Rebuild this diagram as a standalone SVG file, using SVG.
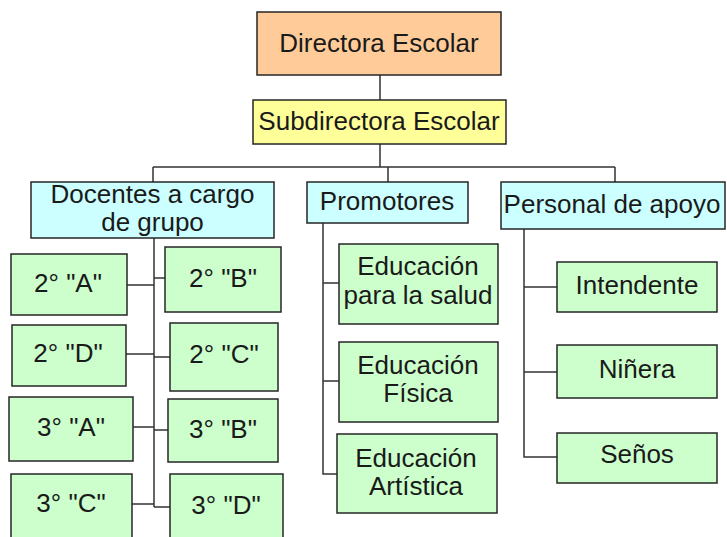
<svg xmlns="http://www.w3.org/2000/svg" width="727" height="537" viewBox="0 0 727 537">
<style>
.b{stroke:#262626;stroke-width:1.5}
.o{fill:#FFCC99}.y{fill:#FFFF99}.c{fill:#CCFFFF}.g{fill:#CCFFCC}
text{font-family:"Liberation Sans",Arial,sans-serif;font-size:26px;fill:#1a1a1a;text-anchor:middle}
.l{fill:none;stroke:#333;stroke-width:1.5}
</style>
<rect width="727" height="537" fill="#fff"/>
<g id="connectors">
<path class="l" d="M380 75V100M380 144V167M153 167H615M153 167V182M388 167V182M615 167V182"/>
<path class="l" d="M154 238V507M127 285H154M154 278H165M126 354H154M154 357H170M133 427H154M154 430H168M132 504H154M154 507H170"/>
<path class="l" d="M323 223V474H337M323 283H339M323 381H339"/>
<path class="l" d="M524 229V457H557M524 287H557M524 372H557"/>
</g>
<g id="directora"><rect class="b o" x="257" y="12" width="244" height="63"/><text x="379" y="52">Directora Escolar</text></g>
<g id="subdirectora"><rect class="b y" x="253" y="100" width="253" height="44"/><text x="379" y="130">Subdirectora Escolar</text></g>
<g id="docentes"><rect class="b c" x="31" y="182" width="243" height="56"/><text x="152.5" y="203">Docentes a cargo</text><text x="152.5" y="231">de grupo</text></g>
<g id="promotores"><rect class="b c" x="307" y="182" width="161" height="41"/><text x="387" y="210">Promotores</text></g>
<g id="personal"><rect class="b c" x="501" y="182" width="224" height="47"/><text x="612" y="213">Personal de apoyo</text></g>
<g id="g2a"><rect class="b g" x="11" y="254" width="116" height="61"/><text x="68" y="292">2° "A"</text></g>
<g id="g2b"><rect class="b g" x="165" y="247" width="116" height="65"/><text x="223" y="287">2° "B"</text></g>
<g id="g2d"><rect class="b g" x="12" y="325" width="114" height="61"/><text x="68" y="362">2° "D"</text></g>
<g id="g2c"><rect class="b g" x="170" y="323" width="108" height="68"/><text x="224" y="363">2° "C"</text></g>
<g id="g3a"><rect class="b g" x="9" y="397" width="124" height="64"/><text x="71" y="436">3° "A"</text></g>
<g id="g3b"><rect class="b g" x="168" y="399" width="110" height="63"/><text x="223" y="438">3° "B"</text></g>
<g id="g3c"><rect class="b g" x="11" y="474" width="121" height="70"/><text x="71" y="512">3° "C"</text></g>
<g id="g3d"><rect class="b g" x="170" y="474" width="113" height="70"/><text x="226" y="514">3° "D"</text></g>
<g id="salud"><rect class="b g" x="339" y="244" width="159" height="80"/><text x="418" y="275">Educación</text><text x="418" y="304">para la salud</text></g>
<g id="fisica"><rect class="b g" x="339" y="342" width="159" height="80"/><text x="418" y="374">Educación</text><text x="418" y="402">Física</text></g>
<g id="artistica"><rect class="b g" x="337" y="434" width="160" height="79"/><text x="416" y="467">Educación</text><text x="416" y="495">Artística</text></g>
<g id="intendente"><rect class="b g" x="557" y="262" width="160" height="50"/><text x="637" y="294">Intendente</text></g>
<g id="ninera"><rect class="b g" x="557" y="345" width="160" height="53"/><text x="637" y="378">Niñera</text></g>
<g id="senos"><rect class="b g" x="557" y="433" width="160" height="50"/><text x="637" y="463">Seños</text></g>
</svg>
